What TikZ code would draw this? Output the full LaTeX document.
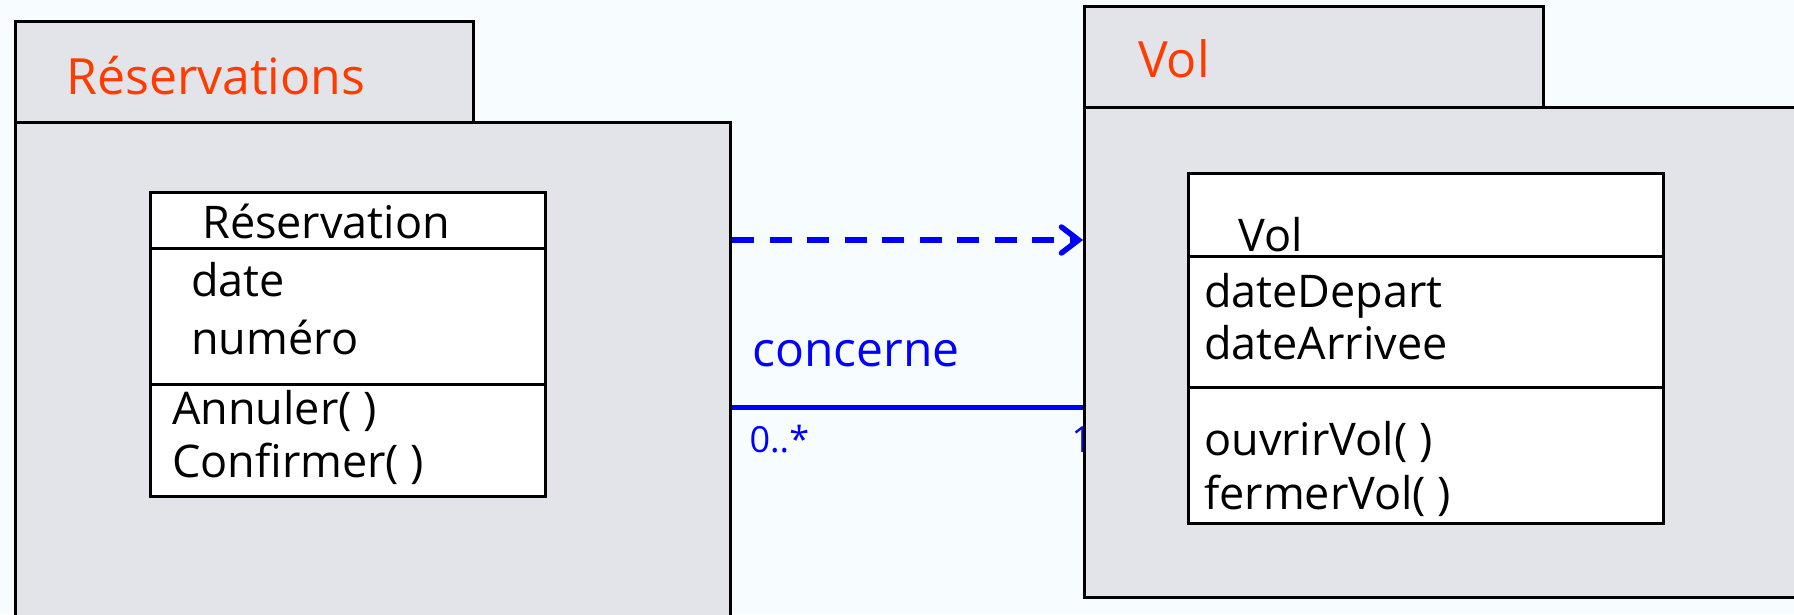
\documentclass[tikz,border=0pt]{standalone}
\usepackage{fontspec}
\setmainfont{Open Sans}
\usetikzlibrary{arrows.meta}
\definecolor{paper}{HTML}{F7FCFF}
\definecolor{marble}{HTML}{E3E4E9}
\definecolor{pkgtitle}{HTML}{FF3C00}
\definecolor{link}{HTML}{0000FF}
\pgfdeclarelayer{canvas}
\pgfdeclarelayer{links}
\pgfsetlayers{canvas,links,main}

\begin{document}
\begin{tikzpicture}[
  x=1pt,y=-1pt,
  font=\fontsize{45}{54}\selectfont,
  pkg/.style={draw=black,fill=marble,line width=3pt,anchor=north west,
    inner sep=0pt},
  part/.style={draw=black,fill=white,line width=2.5pt,anchor=north west,
    inner sep=0pt},
  entry/.style={anchor=base west,inner sep=0pt},
  pkgname/.style={entry,text=pkgtitle,font=\fontsize{50}{60}\selectfont},
  depend/.style={draw=link,line width=5.5pt,dash pattern=on 22pt off 15.5pt,
    -{Straight Barb[length=17pt,width=26pt,line cap=round]}},
  assoc/.style={draw=link,line width=5pt},
  role/.style={text=link,inner sep=0pt,anchor=base west}
]
\useasboundingbox (0,0) rectangle (1794,614);
\clip (0,0) rectangle (1794,614);
\begin{pgfonlayer}{canvas}
  \fill[paper] (0,0) rectangle (1794,614);
\end{pgfonlayer}

% package Reservations
\node[pkg,minimum width=458pt,minimum height=101pt] (restab) at (14,20) {};
\node[pkg,minimum width=715pt,minimum height=520pt] (resbody) at (14,121) {};
\node[pkgname] (restitle) at (66,94) {Réservations};

\node[part,minimum width=395pt,minimum height=56pt] (resname) at (149,191) {};
\node[part,minimum width=395pt,minimum height=136pt] (resattr) at (149,247) {};
\node[part,minimum width=395pt,minimum height=112pt] (resops) at (149,383) {};
\node[entry] (resclass) at (202,238) {Réservation};
\node[entry] (resdate) at (191,296) {date};
\node[entry] (resnum) at (191,354) {numéro};
\node[entry] (resannuler) at (172,424) {Annuler( )};
\node[entry] (resconfirmer) at (172,477) {Confirmer( )};

% package Vol
\node[pkg,minimum width=459pt,minimum height=101pt] (voltab) at (1083,5) {};
\node[pkg,minimum width=730pt,minimum height=490pt] (volbody) at (1083,106) {};
\node[pkgname] (voltitle) at (1138,77) {Vol};

\node[part,minimum width=475pt,minimum height=83pt] (volname) at (1187,172) {};
\node[part,minimum width=475pt,minimum height=131pt] (volattr) at (1187,255) {};
\node[part,minimum width=475pt,minimum height=136pt] (volops) at (1187,386) {};
\node[entry] (volclass) at (1238,251) {Vol};
\node[entry] (voldepart) at (1204,307) {dateDepart};
\node[entry] (volarrivee) at (1204,359) {dateArrivee};
\node[entry] (volouvrir) at (1204,455) {ouvrirVol( )};
\node[entry] (volfermer) at (1204,509) {fermerVol( )};

% dependency and association between the packages
\begin{pgfonlayer}{links}
\draw[depend] ([yshift=-119pt]resbody.north east)
  -- ([yshift=-134pt]volbody.north west);
\draw[assoc] ([yshift=-286pt]resbody.north east)
  -- ([yshift=-301pt]volbody.north west)
  node[role,pos=0,xshift=18pt,yshift=41pt,font=\fontsize{48}{56}\selectfont]
    {concerne}
  node[role,pos=0,xshift=15pt,yshift=-45pt,font=\fontsize{36}{42}\selectfont]
    {0..*}
  node[role,pos=1,xshift=-14pt,yshift=-45pt,font=\fontsize{36}{42}\selectfont]
    {1};
\end{pgfonlayer}
\end{tikzpicture}
\end{document}
